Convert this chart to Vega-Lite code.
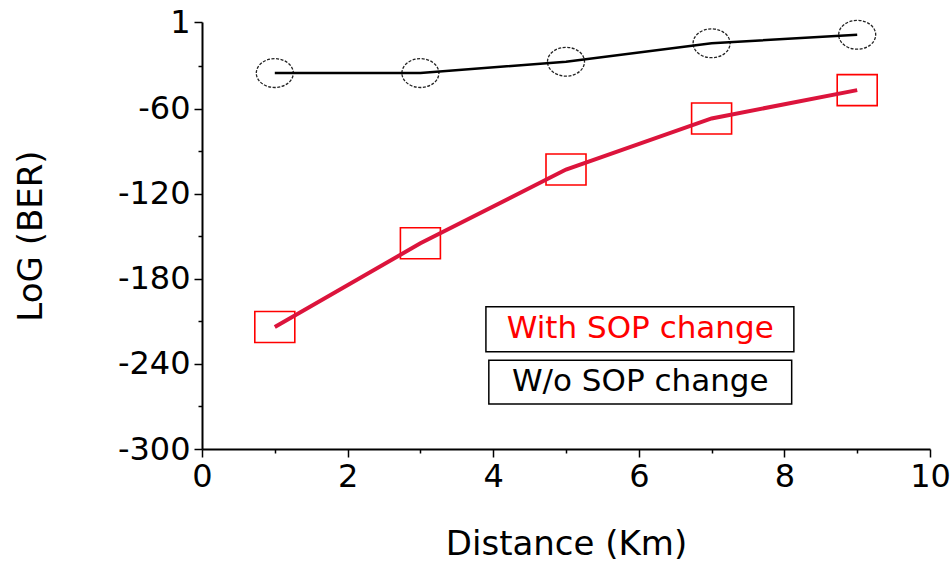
{
  "$schema": "https://vega.github.io/schema/vega-lite/v6.json",
  "width": 728,
  "height": 427,
  "autosize": "none",
  "padding": {"left": 202, "top": 22, "right": 21, "bottom": 114},
  "background": "white",
  "config": {
    "view": {"stroke": null},
    "axis": {
      "grid": false,
      "domainColor": "black",
      "domainWidth": 2,
      "tickColor": "black",
      "tickWidth": 1.5,
      "labelFont": "DejaVu Sans",
      "labelFontSize": 32,
      "labelColor": "black",
      "titleFont": "DejaVu Sans",
      "titleFontSize": 34,
      "titleFontWeight": "normal",
      "titleColor": "black",
      "labelOverlap": false,
      "labelFlush": false,
      "labelBound": false
    }
  },
  "datasets": {
    "ber": [
      {"d": 1, "ber": -35, "series": "W/o SOP change"},
      {"d": 3, "ber": -35, "series": "W/o SOP change"},
      {"d": 5, "ber": -27, "series": "W/o SOP change"},
      {"d": 7, "ber": -14, "series": "W/o SOP change"},
      {"d": 9, "ber": -8, "series": "W/o SOP change"},
      {"d": 1, "ber": -214, "series": "With SOP change"},
      {"d": 3, "ber": -155, "series": "With SOP change"},
      {"d": 5, "ber": -103, "series": "With SOP change"},
      {"d": 7, "ber": -67, "series": "With SOP change"},
      {"d": 9, "ber": -47, "series": "With SOP change"}
    ],
    "legend": [
      {"label": "With SOP change"},
      {"label": "W/o SOP change"}
    ]
  },
  "layer": [
    {
      "data": {"name": "ber"},
      "encoding": {
        "x": {
          "field": "d", "type": "quantitative",
          "scale": {"domain": [0, 10], "nice": false, "zero": false},
          "axis": {
            "title": "Distance (Km)",
            "values": [0,0.5,1,1.5,2,2.5,3,3.5,4,4.5,5,5.5,6,6.5,7,7.5,8,8.5,9,9.5,10],
            "labelExpr": "datum.value % 2 === 0 ? datum.value : ''",
            "tickSize": {"condition": {"test": "datum.value % 2 === 0", "value": 8}, "value": 4},
            "labelPadding": 4,
            "titleY": 95,
            "titleBaseline": "middle"
          }
        },
        "y": {
          "field": "ber", "type": "quantitative",
          "scale": {"domain": [-300, 1], "nice": false, "zero": false},
          "axis": {
            "title": "LoG (BER)",
            "values": [-300,-285,-270,-255,-240,-225,-210,-195,-180,-165,-150,-135,-120,-105,-90,-75,-60,-45,-30,-15,1],
            "labelExpr": "indexof([-300,-240,-180,-120,-60,1], datum.value) >= 0 ? datum.value : ''",
            "tickSize": {"condition": {"test": "indexof([-300,-240,-180,-120,-60,1], datum.value) >= 0", "value": 8}, "value": 4},
            "labelPadding": 4,
            "titleX": -171,
            "titleBaseline": "middle",
            "encode": {"labels": {"update": {"dx": {"signal": "datum.value === 1 ? -16 : 0"}}}}
          }
        }
      },
      "layer": [
        {
          "transform": [{"filter": "datum.series === 'W/o SOP change'"}],
          "mark": {
            "type": "point",
            "shape": "M -1 0 C -1 -0.43 -0.552 -0.78 0 -0.78 C 0.552 -0.78 1 -0.43 1 0 C 1 0.43 0.552 0.78 0 0.78 C -0.552 0.78 -1 0.43 -1 0 Z",
            "size": 1369,
            "filled": false,
            "stroke": "#222222",
            "strokeWidth": 1.3,
            "strokeDash": [3, 1.5],
            "opacity": 1
          }
        },
        {
          "transform": [{"filter": "datum.series === 'With SOP change'"}],
          "mark": {
            "type": "point",
            "shape": "M -1 -0.775 L 1 -0.775 L 1 0.775 L -1 0.775 Z",
            "size": 1600,
            "filled": false,
            "stroke": "#ff0000",
            "strokeWidth": 1.6,
            "opacity": 1
          }
        },
        {
          "transform": [{"filter": "datum.series === 'W/o SOP change'"}],
          "mark": {"type": "line", "color": "black", "strokeWidth": 2.5}
        },
        {
          "transform": [{"filter": "datum.series === 'With SOP change'"}],
          "mark": {"type": "line", "color": "#dc143c", "strokeWidth": 4}
        }
      ]
    },
    {
      "data": {"name": "legend"},
      "transform": [{"filter": "datum.label === 'With SOP change'"}],
      "layer": [
        {
          "mark": {"type": "rect", "fill": "white", "stroke": "black", "strokeWidth": 1.5},
          "encoding": {
            "x": {"datum": 3.9, "type": "quantitative"},
            "x2": {"datum": 8.13},
            "y": {"datum": -199.8, "type": "quantitative"},
            "y2": {"datum": -231.5}
          }
        },
        {
          "mark": {"type": "text", "font": "DejaVu Sans", "fontSize": 31, "color": "#ff0000", "align": "center", "baseline": "middle"},
          "encoding": {
            "x": {"datum": 6.02, "type": "quantitative"},
            "y": {"datum": -215.5, "type": "quantitative"},
            "text": {"field": "label"}
          }
        }
      ]
    },
    {
      "data": {"name": "legend"},
      "transform": [{"filter": "datum.label === 'W/o SOP change'"}],
      "layer": [
        {
          "mark": {"type": "rect", "fill": "white", "stroke": "black", "strokeWidth": 1.5},
          "encoding": {
            "x": {"datum": 3.94, "type": "quantitative"},
            "x2": {"datum": 8.1},
            "y": {"datum": -237.4, "type": "quantitative"},
            "y2": {"datum": -268.2}
          }
        },
        {
          "mark": {"type": "text", "font": "DejaVu Sans", "fontSize": 31, "color": "black", "align": "center", "baseline": "middle"},
          "encoding": {
            "x": {"datum": 6.02, "type": "quantitative"},
            "y": {"datum": -252.8, "type": "quantitative"},
            "text": {"field": "label"}
          }
        }
      ]
    }
  ]
}
